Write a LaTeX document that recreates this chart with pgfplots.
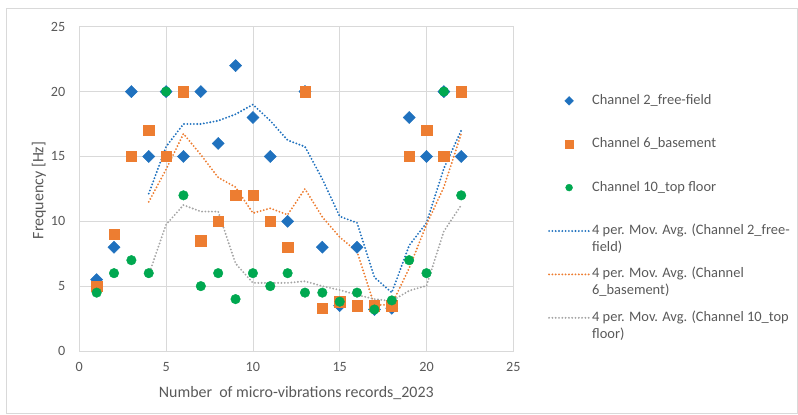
\documentclass[border=0pt]{standalone}
\usepackage{pgfplots}
\pgfplotsset{compat=1.18}
\usepackage{pgfplotstable}
\usepackage{fontspec}
\setmainfont{Carlito}

\definecolor{cblue}{RGB}{31,113,190}
\definecolor{corange}{RGB}{237,125,49}
\definecolor{cgreen}{RGB}{0,168,80}
\definecolor{cgray}{RGB}{165,165,165}
\definecolor{gridgray}{RGB}{217,217,217}
\definecolor{txtgray}{RGB}{89,89,89}

% dominant frequency per record, three channels
\pgfplotstableread{
x  ch2  ch6  ch10
1  5.5  5.0  4.5
2  8    9    6
3  20   15   7
4  15   17   6
5  20   15   20
6  15   20   12
7  20   8.5  5
8  16   10   6
9  22   12   4
10 18   12   6
11 15   10   5
12 10   8    6
13 20   20   4.5
14 8    3.3  4.5
15 3.5  3.8  3.8
16 8    3.5  4.5
17 3.2  3.5  3.2
18 3.3  3.5  3.9
19 18   15   7
20 15   17   6
21 20   15   20
22 15   20   12
}\freqdata

% 4-period moving averages
\pgfplotstableread{
x  ma2    ma6    ma10
4  12.13  11.50  5.88
5  15.75  14.00  9.75
6  17.50  16.75  11.25
7  17.50  15.13  10.75
8  17.75  13.38  10.75
9  18.25  12.63  6.75
10 19.00  10.63  5.25
11 17.75  11.00  5.25
12 16.25  10.50  5.25
13 15.75  12.50  5.38
14 13.25  10.33  5.00
15 10.38  8.78   4.70
16 9.88   7.65   4.33
17 5.68   3.53   4.00
18 4.50   3.58   3.85
19 8.13   6.38   4.65
20 9.88   9.75   5.03
21 14.08  12.63  9.23
22 17.00  16.75  11.25
}\madata

% legend entries: a box whose baseline is that of its first line
\newcommand{\lgd}[2]{\vtop{\baselineskip=17bp\hbox{\strut#1}\hbox{\strut#2}}}
\newcommand{\lgs}[1]{\strut#1}

\tikzset{
  mavg/.style={line width=2.1bp, dash pattern=on 0pt off 3.3bp, line cap=round},
}

\begin{document}
\begin{tikzpicture}
\begin{axis}[
  scale only axis,
  width=434bp, height=324.3bp,
  xmin=0, xmax=25, ymin=0, ymax=25,
  xtick={0,5,...,25}, ytick={0,5,...,25},
  grid=major,
  major grid style={gridgray, line width=0.8bp},
  axis line style={gridgray, line width=0.8bp},
  major tick length=0pt,
  /pgf/number format/assume math mode=true,
  tick label style={font=\fontsize{14.2}{17}\selectfont, text=txtgray},
  xticklabel style={yshift=-8bp},
  yticklabel style={xshift=-10.5bp},
  xlabel={Number\ \ of micro-vibrations records\_2023},
  ylabel={Frequency [Hz]},
  label style={font=\fontsize{16}{19}\selectfont, text=txtgray},
  xlabel style={at={(axis description cs:0.5,-0.13)}, anchor=center},
  ylabel style={at={(axis description cs:-0.093,0.495)}, anchor=center},
  legend style={
    at={(axis description cs:1.0796,0.804)}, anchor=north west,
    draw=none, fill=none, inner sep=0pt,
    font=\fontsize{14.5}{17}\selectfont, text=txtgray,
    cells={anchor=base west},
    row sep={43.4bp,between origins},
  },
  legend image code/.code={%
    \draw[mark repeat=2, mark phase=2, #1, every mark/.append style={scale=0.72}]
      plot coordinates {(0bp,3.5bp) (20bp,3.5bp) (40bp,3.5bp)};},
  clip=false,
]
\coordinate (O) at (axis cs:0,0);

\addplot[only marks, mark=square*, mark size=4.3bp, color=cblue, mark options={rotate=45}]
  table[x=x, y=ch2] {\freqdata};
\addlegendentry{\lgs{Channel 2\_free-field}}
\addplot[only marks, mark=square*, mark size=5.2bp, color=corange]
  table[x=x, y=ch6] {\freqdata};
\addlegendentry{\lgs{Channel 6\_basement}}
\addplot[only marks, mark=*, mark size=4.8bp, color=cgreen]
  table[x=x, y=ch10] {\freqdata};
\addlegendentry{\lgs{Channel 10\_top floor}}

\addplot[cblue, mavg] table[x=x, y=ma2] {\madata};
\addlegendentry{\lgd{4 per. Mov. Avg. (Channel 2\_free-}{field)}}
\addplot[corange, mavg] table[x=x, y=ma6] {\madata};
\addlegendentry{\lgd{4 per. Mov. Avg. (Channel}{6\_basement)}}
\addplot[cgray, mavg] table[x=x, y=ma10] {\madata};
\addlegendentry{\lgd{4 per. Mov. Avg. (Channel 10\_top}{floor)}}
\end{axis}
% chart area frame
\draw[gridgray, line width=0.9bp] (O) ++(-73.3bp,-62bp) rectangle ++(791bp,404.5bp);
\path (O) ++(-79.3bp,-64bp) rectangle ++(798bp,415bp);
\end{tikzpicture}
\end{document}
